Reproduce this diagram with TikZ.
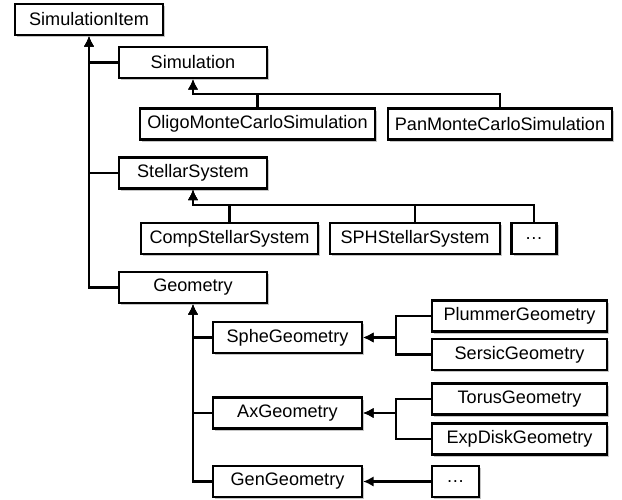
\documentclass[tikz,border=0pt]{standalone}
\usepackage{fontspec}
\setmainfont{Liberation Sans}
\usetikzlibrary{arrows.meta, shadows}

\begin{document}
\begin{tikzpicture}[klass/.style={draw, fill=white, line width=1.3pt, minimum height=0.62cm, inner sep=0pt, font=\fontsize{10.3}{12}\selectfont, drop shadow={opacity=0.45, shadow xshift=1.4pt, shadow yshift=-1.4pt}},
  inh/.style={line width=1.3pt, -{Latex[length=6pt, width=6pt]}}]
  \useasboundingbox (0,0) rectangle (12.44,9.98);

  \node[klass, minimum width=2.96cm] (item) at (1.78,9.59) {SimulationItem};

  \node[klass, minimum width=2.96cm] (sim) at (3.86,8.73) {Simulation};
  \node[klass, minimum width=4.70cm] (oligo) at (5.15,7.50) {OligoMonteCarloSimulation};
  \node[klass, minimum width=4.48cm] (pan) at (10.00,7.50) {PanMonteCarloSimulation};

  \node[klass, minimum width=2.96cm] (stellar) at (3.86,6.52) {StellarSystem};
  \node[klass, minimum width=3.54cm] (comp) at (4.59,5.21) {CompStellarSystem};
  \node[klass, minimum width=3.40cm] (sph) at (8.30,5.21) {SPHStellarSystem};
  \node[klass, minimum width=0.90cm] (moreA) at (10.68,5.21) {\dots};

  \node[klass, minimum width=2.96cm] (geom) at (3.86,4.23) {Geometry};
  \node[klass, minimum width=2.98cm] (sphe) at (5.75,3.23) {SpheGeometry};
  \node[klass, minimum width=2.98cm] (ax) at (5.75,1.72) {AxGeometry};
  \node[klass, minimum width=2.98cm] (gen) at (5.75,0.35) {GenGeometry};

  \node[klass, minimum width=3.50cm] (plummer) at (10.39,3.66) {PlummerGeometry};
  \node[klass, minimum width=3.50cm] (sersic) at (10.39,2.89) {SersicGeometry};
  \node[klass, minimum width=3.50cm] (torus) at (10.39,2.00) {TorusGeometry};
  \node[klass, minimum width=3.50cm] (expdisk) at (10.39,1.20) {ExpDiskGeometry};
  \node[klass, minimum width=0.94cm] (moreB) at (9.11,0.35) {\dots};

  \draw[inh] (sim.west) -| (item.south);
  \draw[inh] (stellar.west) -| (item.south);
  \draw[inh] (geom.west) -| (item.south);

  \draw[inh] (oligo.north) -- ++(0,0.27) -| (sim.south);
  \draw[inh] (pan.north) -- ++(0,0.27) -| (sim.south);

  \draw[inh] (comp.north) -- ++(0,0.34) -| (stellar.south);
  \draw[inh] (sph.north) -- ++(0,0.34) -| (stellar.south);
  \draw[inh] (moreA.north) -- ++(0,0.34) -| (stellar.south);

  \draw[inh] (sphe.west) -| (geom.south);
  \draw[inh] (ax.west) -| (geom.south);
  \draw[inh] (gen.west) -| (geom.south);

  \draw[inh] (plummer.west) -- ++(-0.70,0) |- (sphe.east);
  \draw[inh] (sersic.west) -- ++(-0.70,0) |- (sphe.east);
  \draw[inh] (torus.west) -- ++(-0.70,0) |- (ax.east);
  \draw[inh] (expdisk.west) -- ++(-0.70,0) |- (ax.east);
  \draw[inh] (moreB.west) -- (gen.east);
\end{tikzpicture}
\end{document}
